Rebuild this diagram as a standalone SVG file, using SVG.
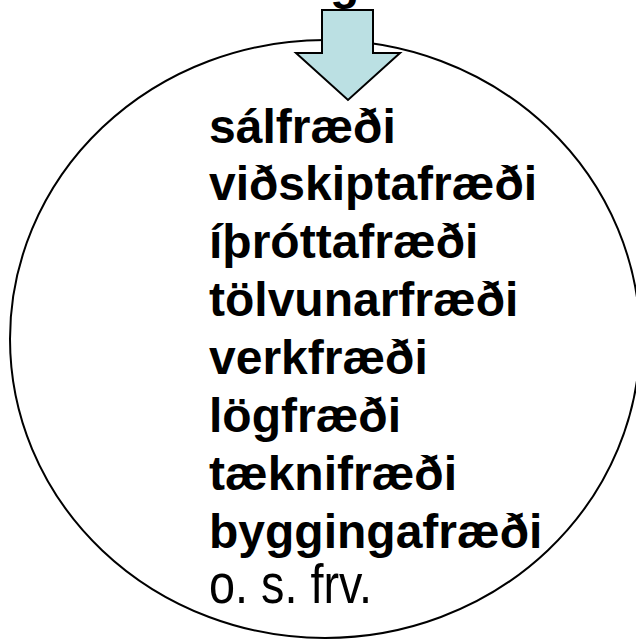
<svg xmlns="http://www.w3.org/2000/svg" width="636" height="639" viewBox="0 0 636 639">
<style>
.b{font-family:"Liberation Sans",Arial,sans-serif;font-weight:bold;font-size:48px;fill:#000}
.r{font-family:"Liberation Sans",Arial,sans-serif;font-size:56px;fill:#000}
</style>
<rect width="636" height="639" fill="#fff"/>
<g id="circle">
<ellipse cx="325" cy="339" rx="315" ry="299" fill="none" stroke="#000" stroke-width="2"/>
</g>
<g id="title"><text class="b" x="330" y="-1">g</text></g>
<g id="arrow">
<polygon points="322,10 373,10 373,53 400,53 348,100 296,53 322,53" fill="#BBE0E3" stroke="#000" stroke-width="2"/>
</g>
<g id="list">
<text class="b" x="209" y="143">sálfræði</text>
<text class="b" x="209" y="200">viðskiptafræði</text>
<text class="b" x="209" y="258">íþróttafræði</text>
<text class="b" x="209" y="316">tölvunarfræði</text>
<text class="b" x="209" y="374">verkfræði</text>
<text class="b" x="209" y="432">lögfræði</text>
<text class="b" x="209" y="490">tæknifræði</text>
<text class="b" x="209" y="548">byggingafræði</text>
<text class="r" x="209" y="603" textLength="163" lengthAdjust="spacingAndGlyphs">o. s. frv.</text>
</g>
</svg>
